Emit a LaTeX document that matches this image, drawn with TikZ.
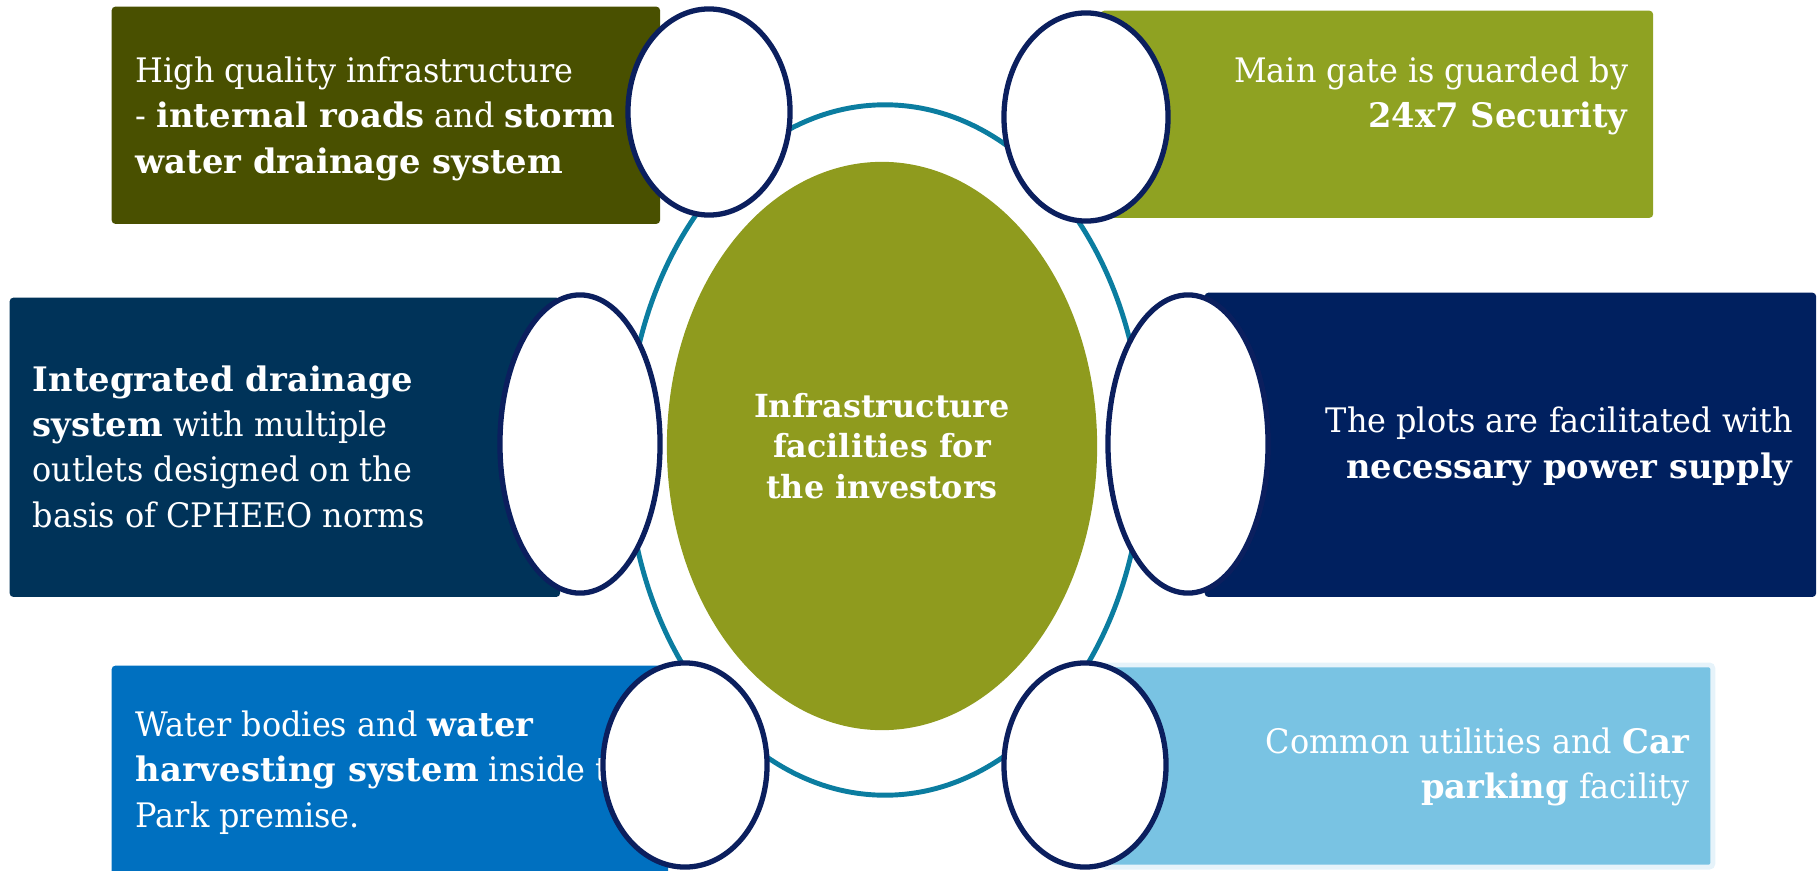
\documentclass[tikz,border=0pt]{standalone}
\usepackage{fontspec}
\setmainfont{DejaVu Serif}[UprightFeatures={FakeStretch=0.945}]
\usetikzlibrary{shapes.geometric}

\definecolor{boxolive}{HTML}{495000}
\definecolor{boxgreen}{HTML}{8FA222}
\definecolor{boxteal}{HTML}{003359}
\definecolor{boxnavy}{HTML}{00205F}
\definecolor{boxblue}{HTML}{0070C0}
\definecolor{boxsky}{HTML}{79C3E3}
\definecolor{skyedge}{HTML}{E6F3FA}
\definecolor{hubolive}{HTML}{8F9B1E}
\definecolor{ringteal}{HTML}{0B7DA0}
\definecolor{bubbleline}{HTML}{0B1F5E}

\tikzset{
	infobox/.style={rectangle, rounded corners=1pt, inner sep=0pt, anchor=north west},
	infotext/.style={text=white, inner sep=0pt, font=\fontsize{9.6}{12.8}\selectfont},
	bubble/.style={ellipse, draw=bubbleline, line width=1.5pt, fill=white, inner sep=0pt},
}

\begin{document}
\begin{tikzpicture}[x=0.01cm,y=-0.01cm]
	\useasboundingbox (0,0) rectangle (1819,870);

	% ring behind everything
	\draw [color=ringteal, line width=1.4pt] (885,450) ellipse [x radius=2.58cm, y radius=3.45cm];

	% the six boxes
	\node[infobox, fill=boxolive, minimum width=5.48cm, minimum height=2.17cm] (boxTL) at (111,6) {};
	\node[infobox, fill=boxgreen, minimum width=5.52cm, minimum height=2.07cm] (boxTR) at (1100,10) {};
	\node[infobox, fill=boxteal, minimum width=5.50cm, minimum height=2.99cm] (boxML) at (9,297) {};
	\node[infobox, fill=boxnavy, minimum width=6.11cm, minimum height=3.04cm] (boxMR) at (1204,292) {};
	\node[infobox, fill=boxblue, minimum width=5.56cm, minimum height=2.20cm] (boxBL) at (111,665) {};
	\node[infobox, fill=boxsky, draw=skyedge, line width=1.4pt, minimum width=6.10cm, minimum height=2.02cm] (boxBR) at (1100,662.5) {};

	% texts (anchored at the baseline of their last line)
	\node[infotext, anchor=base west, align=left] (txtTL) at (135,173) {High quality infrastructure\\- \textbf{internal roads} and \textbf{storm}\\\textbf{water drainage system}};
	\node[infotext, anchor=base east, align=right] (txtTR) at (1629,128) {Main gate is guarded by\\\textbf{24x7 Security}};
	\node[infotext, anchor=base west, align=left] (txtML) at (32,527) {\textbf{Integrated drainage}\\\textbf{system} with multiple\\outlets designed on the\\basis of CPHEEO norms};
	\node[infotext, anchor=base east, align=right] (txtMR) at (1794,478) {The plots are facilitated with\\\textbf{necessary power supply}};
	\node[infotext, anchor=base west, align=left] (txtBL) at (135,827) {Water bodies and \textbf{water}\\\textbf{harvesting system} inside the\\Park premise.};
	\node[infotext, anchor=base east, align=right] (txtBR) at (1690,798) {Common utilities and \textbf{Car}\\\textbf{parking} facility};

	% white bubbles
	\node[bubble, minimum width=1.62cm, minimum height=2.06cm] (bubTL) at (709,112) {};
	\node[bubble, minimum width=1.64cm, minimum height=2.08cm] (bubTR) at (1086,117) {};
	\node[bubble, minimum width=1.60cm, minimum height=2.98cm] (bubML) at (580,444) {};
	\node[bubble, minimum width=1.60cm, minimum height=2.98cm] (bubMR) at (1188,444) {};
	\node[bubble, minimum width=1.64cm, minimum height=2.04cm] (bubBL) at (685,765) {};
	\node[bubble, minimum width=1.62cm, minimum height=2.04cm] (bubBR) at (1085,765) {};

	% centre
	\node[ellipse, fill=hubolive, inner sep=0pt, minimum width=4.30cm, minimum height=5.68cm, text=white, align=center, font=\bfseries\fontsize{9.05}{11.5}\selectfont] (hub) at (882,446) {Infrastructure\\facilities for\\the investors};
\end{tikzpicture}
\end{document}
